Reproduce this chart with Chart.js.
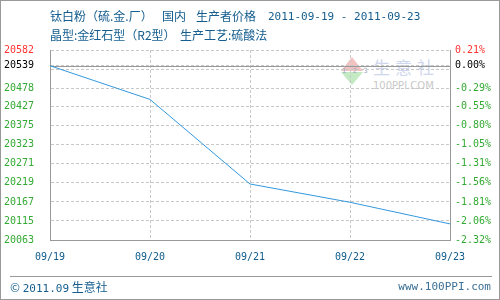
<!DOCTYPE html>
<html>
<head>
<meta charset="utf-8">
<script src="https://cdn.jsdelivr.net/npm/chart.js@4"></script>
<style>
	body { margin: 0; background: #fff; }
	#wrap { position: relative; width: 500px; height: 300px; border: 1px solid #999; box-sizing: border-box; overflow: hidden; font-family: 'Noto Sans CJK SC', sans-serif; }
	#chart { position: absolute; left: -1px; top: -1px; }
	.t { position: absolute; font-size: 12px; color: #145d8e; white-space: nowrap; line-height: 14px; }
	.mono { font-family: 'DejaVu Sans Mono', monospace; font-size: 11px; }
	.up { position: absolute; width: 0; height: 0; border-left: 11px solid transparent; border-right: 11px solid transparent; border-bottom: 14px solid #f5c2c2; }
	.down { position: absolute; width: 0; height: 0; border-left: 11px solid transparent; border-right: 11px solid transparent; border-top: 13px solid #c4eac4; }
	#foot-line { position: absolute; left: 9px; top: 275px; width: 482px; border-top: 1px solid #999; }
	#foot-left { position: absolute; left: 9px; top: 277px; font-size: 12px; color: #145d8e; }
	#foot-right { position: absolute; right: 8px; top: 279px; font-size: 11px; color: #3a6f96; font-family: 'DejaVu Sans Mono', monospace; }
</style>
</head>
<body>
<div id="wrap">
	<div class="up" style="left: 340px; top: 56px;"></div>
	<div class="down" style="left: 340px; top: 71px;"></div>
	<div class="t" style="left: 341px; top: 63px; font-size: 7px; color: #9aa6bb; letter-spacing: 2px; font-family: 'DejaVu Sans', sans-serif;">1 2 3</div>
	<div class="t" style="left: 372px; top: 57px; font-size: 17px; line-height: 17px; letter-spacing: 5px; color: #cfd7ee;">生意社</div>
	<div class="t" style="left: 372px; top: 79px; font-size: 10px; line-height: 11px; color: #c8c8c8; font-family: 'DejaVu Sans', sans-serif;">100PPI.COM</div>
	<canvas id="chart" width="500" height="300"></canvas>
	<div class="t" style="left: 49px; top: 8px;">钛白粉（硫.金.厂）</div>
	<div class="t" style="left: 161px; top: 8px;">国内</div>
	<div class="t" style="left: 195px; top: 8px;">生产者价格</div>
	<div class="t mono" style="left: 267px; top: 9px;">2011-09-19 - 2011-09-23</div>
	<div class="t" style="left: 49px; top: 27px;">晶型:金红石型（R2型）</div>
	<div class="t" style="left: 179px; top: 27px;">生产工艺:硫酸法</div>
	<div id="foot-line"></div>
	<div id="foot-left">© <span class="mono">2011.09</span> 生意社</div>
	<div id="foot-right">www.100PPI.com</div>
</div>
<script>
const dates = ['09/19', '09/20', '09/21', '09/22', '09/23'];
const prices = [20539, 20447, 20216, 20166, 20107];
const basePrice = 20539;
const yMin = 20063;
const yMax = 20582;
const gridTicks = [20582, 20539, 20530, 20478, 20427, 20375, 20323, 20271, 20219, 20167, 20115, 20063];
const leftLabels = ['20582', '20539', '', '20478', '20427', '20375', '20323', '20271', '20219', '20167', '20115', '20063'];
const rightLabels = ['0.21%', '0.00%', '', '-0.29%', '-0.55%', '-0.80%', '-1.05%', '-1.31%', '-1.56%', '-1.81%', '-2.06%', '-2.32%'];

const tickFont = { family: 'DejaVu Sans Mono', size: 10 };
const tickColor = (ctx) => {
	if (ctx.index === 0) return '#ff3333';
	if (ctx.index === 1) return '#000000';
	return '#33aa33';
};

// solid line at the base price, drawn over the dashed grid
const baseLine = {
	id: 'baseLine',
	beforeDatasetsDraw(chart) {
		const { ctx, chartArea, scales } = chart;
		const y = Math.round(scales.y.getPixelForValue(basePrice)) + 0.5;
		ctx.save();
		ctx.strokeStyle = '#999';
		ctx.lineWidth = 1;
		ctx.beginPath();
		ctx.moveTo(chartArea.left, y);
		ctx.lineTo(chartArea.right, y);
		ctx.stroke();
		ctx.restore();
	},
};

new Chart(document.getElementById('chart'), {
	type: 'line',
	data: {
		labels: dates,
		datasets: [
			{
				data: prices,
				borderColor: '#3399dd',
				borderWidth: 1,
				pointRadius: 0,
				tension: 0,
				yAxisID: 'y',
			},
		],
	},
	options: {
		responsive: false,
		animation: false,
		devicePixelRatio: 1,
		layout: { padding: { top: 50, bottom: 32, left: 0, right: 0 } },
		plugins: { legend: { display: false }, tooltip: { enabled: false } },
		scales: {
			x: {
				offset: false,
				grid: { color: '#c8c8c8', drawTicks: false },
				border: { color: '#999', dash: [3, 2] },
				ticks: { font: tickFont, color: '#0e5b8c', padding: 11, maxRotation: 0, autoSkip: false },
				afterFit: (s) => { s.height = 28; },
			},
			y: {
				position: 'left',
				min: yMin,
				max: yMax,
				afterBuildTicks: (s) => { s.ticks = gridTicks.map((v) => ({ value: v })); },
				grid: { color: '#c8c8c8', drawTicks: false },
				border: { color: '#999', dash: [3, 2] },
				ticks: { font: tickFont, color: tickColor, padding: 16, autoSkip: false, callback: (v, i) => leftLabels[i] },
				afterFit: (s) => { s.width = 50; },
			},
			y1: {
				position: 'right',
				min: yMin,
				max: yMax,
				afterBuildTicks: (s) => { s.ticks = gridTicks.map((v) => ({ value: v })); },
				grid: { drawOnChartArea: false, drawTicks: false },
				border: { color: '#999' },
				ticks: { font: tickFont, color: tickColor, padding: 5, autoSkip: false, callback: (v, i) => rightLabels[i] },
				afterFit: (s) => { s.width = 50; },
			},
		},
	},
	plugins: [baseLine],
});
</script>
</body>
</html>
